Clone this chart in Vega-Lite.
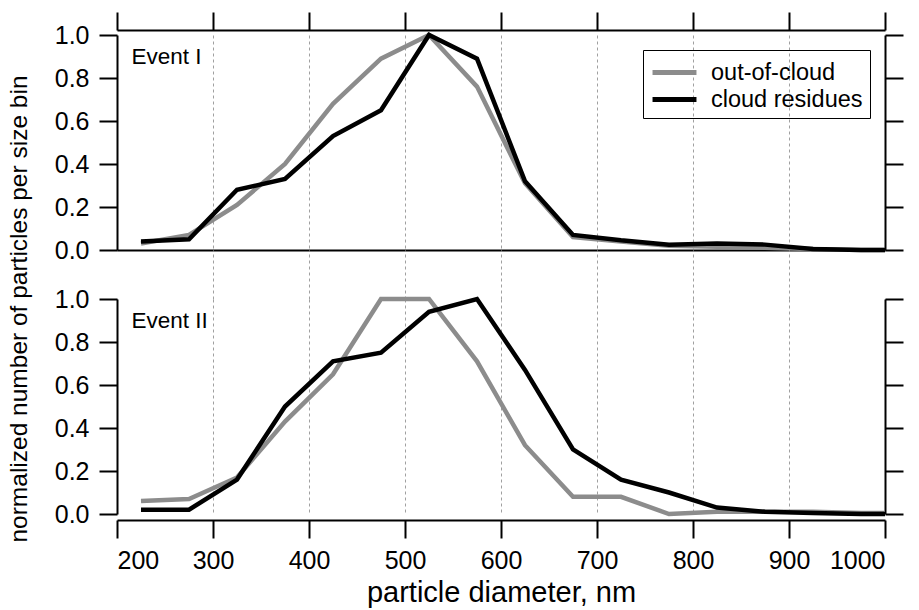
{
  "$schema": "https://vega.github.io/schema/vega-lite/v6.json",
  "padding": {"left": 6, "top": 11, "right": 5, "bottom": 5},
  "config": {
    "view": {"stroke": null},
    "font": "Liberation Sans",
    "axis": {"domainColor": "black", "tickColor": "black", "domainWidth": 2, "tickWidth": 2, "labelColor": "black", "titleColor": "black", "labelFont": "Liberation Sans", "titleFont": "Liberation Sans", "titleFontWeight": "normal"},
    "legend": {"labelFont": "Liberation Sans"}
  },
  "title": {"text": "normalized number of particles per size bin", "orient": "left", "anchor": "middle", "fontSize": 24.5, "fontWeight": "normal", "font": "Liberation Sans", "color": "black", "offset": 22},
  "datasets": {
    "d": [
      {"event": "I", "series": "out-of-cloud", "d": 225, "v": 0.03},
      {"event": "I", "series": "out-of-cloud", "d": 275, "v": 0.07},
      {"event": "I", "series": "out-of-cloud", "d": 325, "v": 0.21},
      {"event": "I", "series": "out-of-cloud", "d": 375, "v": 0.40},
      {"event": "I", "series": "out-of-cloud", "d": 425, "v": 0.68},
      {"event": "I", "series": "out-of-cloud", "d": 475, "v": 0.89},
      {"event": "I", "series": "out-of-cloud", "d": 525, "v": 1.0},
      {"event": "I", "series": "out-of-cloud", "d": 575, "v": 0.76},
      {"event": "I", "series": "out-of-cloud", "d": 625, "v": 0.31},
      {"event": "I", "series": "out-of-cloud", "d": 675, "v": 0.06},
      {"event": "I", "series": "out-of-cloud", "d": 725, "v": 0.04},
      {"event": "I", "series": "out-of-cloud", "d": 775, "v": 0.02},
      {"event": "I", "series": "out-of-cloud", "d": 825, "v": 0.015},
      {"event": "I", "series": "out-of-cloud", "d": 875, "v": 0.01},
      {"event": "I", "series": "out-of-cloud", "d": 925, "v": 0.005},
      {"event": "I", "series": "out-of-cloud", "d": 975, "v": 0.0},
      {"event": "I", "series": "out-of-cloud", "d": 1000, "v": 0.0},
      {"event": "I", "series": "cloud residues", "d": 225, "v": 0.04},
      {"event": "I", "series": "cloud residues", "d": 275, "v": 0.05},
      {"event": "I", "series": "cloud residues", "d": 325, "v": 0.28},
      {"event": "I", "series": "cloud residues", "d": 375, "v": 0.33},
      {"event": "I", "series": "cloud residues", "d": 425, "v": 0.53},
      {"event": "I", "series": "cloud residues", "d": 475, "v": 0.65},
      {"event": "I", "series": "cloud residues", "d": 525, "v": 1.0},
      {"event": "I", "series": "cloud residues", "d": 575, "v": 0.89},
      {"event": "I", "series": "cloud residues", "d": 625, "v": 0.32},
      {"event": "I", "series": "cloud residues", "d": 675, "v": 0.07},
      {"event": "I", "series": "cloud residues", "d": 725, "v": 0.045},
      {"event": "I", "series": "cloud residues", "d": 775, "v": 0.025},
      {"event": "I", "series": "cloud residues", "d": 825, "v": 0.03},
      {"event": "I", "series": "cloud residues", "d": 875, "v": 0.025},
      {"event": "I", "series": "cloud residues", "d": 925, "v": 0.005},
      {"event": "I", "series": "cloud residues", "d": 975, "v": 0.0},
      {"event": "I", "series": "cloud residues", "d": 1000, "v": 0.0},
      {"event": "II", "series": "out-of-cloud", "d": 225, "v": 0.06},
      {"event": "II", "series": "out-of-cloud", "d": 275, "v": 0.07},
      {"event": "II", "series": "out-of-cloud", "d": 325, "v": 0.17},
      {"event": "II", "series": "out-of-cloud", "d": 375, "v": 0.43},
      {"event": "II", "series": "out-of-cloud", "d": 425, "v": 0.65},
      {"event": "II", "series": "out-of-cloud", "d": 475, "v": 1.0},
      {"event": "II", "series": "out-of-cloud", "d": 525, "v": 1.0},
      {"event": "II", "series": "out-of-cloud", "d": 575, "v": 0.71},
      {"event": "II", "series": "out-of-cloud", "d": 625, "v": 0.32},
      {"event": "II", "series": "out-of-cloud", "d": 675, "v": 0.08},
      {"event": "II", "series": "out-of-cloud", "d": 725, "v": 0.08},
      {"event": "II", "series": "out-of-cloud", "d": 775, "v": 0.0},
      {"event": "II", "series": "out-of-cloud", "d": 825, "v": 0.01},
      {"event": "II", "series": "out-of-cloud", "d": 875, "v": 0.01},
      {"event": "II", "series": "out-of-cloud", "d": 925, "v": 0.01},
      {"event": "II", "series": "out-of-cloud", "d": 975, "v": 0.005},
      {"event": "II", "series": "out-of-cloud", "d": 1000, "v": 0.005},
      {"event": "II", "series": "cloud residues", "d": 225, "v": 0.02},
      {"event": "II", "series": "cloud residues", "d": 275, "v": 0.02},
      {"event": "II", "series": "cloud residues", "d": 325, "v": 0.16},
      {"event": "II", "series": "cloud residues", "d": 375, "v": 0.50},
      {"event": "II", "series": "cloud residues", "d": 425, "v": 0.71},
      {"event": "II", "series": "cloud residues", "d": 475, "v": 0.75},
      {"event": "II", "series": "cloud residues", "d": 525, "v": 0.94},
      {"event": "II", "series": "cloud residues", "d": 575, "v": 1.0},
      {"event": "II", "series": "cloud residues", "d": 625, "v": 0.67},
      {"event": "II", "series": "cloud residues", "d": 675, "v": 0.30},
      {"event": "II", "series": "cloud residues", "d": 725, "v": 0.16},
      {"event": "II", "series": "cloud residues", "d": 775, "v": 0.10},
      {"event": "II", "series": "cloud residues", "d": 825, "v": 0.03},
      {"event": "II", "series": "cloud residues", "d": 875, "v": 0.01},
      {"event": "II", "series": "cloud residues", "d": 925, "v": 0.005},
      {"event": "II", "series": "cloud residues", "d": 975, "v": 0.0},
      {"event": "II", "series": "cloud residues", "d": 1000, "v": 0.0}
    ]
  },
  "bounds": "flush",
  "spacing": 49,
  "resolve": {"scale": {"color": "independent"}, "legend": {"color": "independent"}},
  "vconcat": [
    {
      "width": 768,
      "height": 215,
      "resolve": {"axis": {"x": "independent", "y": "independent"}},
      "layer": [
        {
          "data": {"name": "d"},
          "transform": [{"filter": "datum.event == 'I'"}],
          "mark": {"type": "line", "strokeWidth": 4.5},
          "encoding": {
            "x": {"field": "d", "type": "quantitative", "scale": {"domain": [200, 1000]},
                  "axis": {"orient": "top", "offset": 5, "values": [200, 300, 400, 500, 600, 700, 800, 900, 1000], "tickSize": 18, "labels": false, "title": null, "grid": false}},
            "y": {"field": "v", "type": "quantitative", "scale": {"domain": [0, 1]},
                  "axis": {"orient": "left", "values": [0, 0.2, 0.4, 0.6, 0.8, 1.0], "format": ".1f", "tickSize": 18, "labelFontSize": 25, "labelPadding": 10, "title": null, "grid": false, "domain": true}},
            "color": {"field": "series", "type": "nominal",
                      "scale": {"domain": ["out-of-cloud", "cloud residues"], "range": ["#8c8c8c", "#000000"]},
                      "legend": {"title": null, "orient": "top-right", "offset": 15, "strokeColor": "black", "padding": 7,
                                 "symbolType": "M-1.69,0H1.69", "symbolSize": 676, "symbolStrokeWidth": 5, "symbolOffset": 9,
                                 "labelFontSize": 23.5, "labelColor": "black", "labelOffset": 21, "rowPadding": 0}}
          }
        },
        {
          "data": {"name": "d"},
          "transform": [{"filter": "datum.event == 'I'"}],
          "mark": {"type": "point", "opacity": 0},
          "encoding": {
            "x": {"field": "d", "type": "quantitative",
                  "axis": {"orient": "bottom", "values": [300, 400, 500, 600, 700, 800, 900], "ticks": false, "labels": false, "title": null, "grid": true, "gridDash": [3, 3], "gridColor": "#a0a0a0", "gridWidth": 1, "gridOpacity": 1}},
            "y": {"field": "v", "type": "quantitative",
                  "axis": {"orient": "right", "values": [0, 0.2, 0.4, 0.6, 0.8, 1.0], "tickSize": 18, "labels": false, "title": null, "grid": false}}
          }
        },
        {
          "data": {"values": [{"label": "Event I"}]},
          "mark": {"type": "text", "align": "left", "baseline": "middle", "fontSize": 22.5, "font": "Liberation Sans", "color": "black"},
          "encoding": {
            "x": {"datum": 215, "type": "quantitative", "axis": null},
            "y": {"datum": 0.9, "type": "quantitative", "axis": null},
            "text": {"field": "label"}
          }
        }
      ]
    },
    {
      "width": 768,
      "height": 215,
      "resolve": {"axis": {"x": "independent", "y": "independent"}},
      "layer": [
        {
          "data": {"name": "d"},
          "transform": [{"filter": "datum.event == 'II'"}],
          "mark": {"type": "line", "strokeWidth": 4.5},
          "encoding": {
            "x": {"field": "d", "type": "quantitative", "scale": {"domain": [200, 1000]},
                  "axis": {"orient": "bottom", "offset": 6, "values": [200, 300, 400, 500, 600, 700, 800, 900, 1000], "format": "d", "tickSize": 18, "labelFontSize": 25, "labelPadding": 10, "title": "particle diameter, nm", "titleFontSize": 29, "titlePadding": 5, "grid": true, "gridDash": [3, 3], "gridColor": "#a0a0a0", "gridWidth": 1, "gridOpacity": 1}},
            "y": {"field": "v", "type": "quantitative", "scale": {"domain": [0, 1]},
                  "axis": {"orient": "left", "values": [0, 0.2, 0.4, 0.6, 0.8, 1.0], "format": ".1f", "tickSize": 18, "labelFontSize": 25, "labelPadding": 10, "title": null, "grid": false}},
            "color": {"field": "series", "type": "nominal",
                      "scale": {"domain": ["out-of-cloud", "cloud residues"], "range": ["#8c8c8c", "#000000"]},
                      "legend": null}
          }
        },
        {
          "data": {"name": "d"},
          "transform": [{"filter": "datum.event == 'II'"}],
          "mark": {"type": "point", "opacity": 0},
          "encoding": {
            "x": {"field": "d", "type": "quantitative",
                  "axis": {"orient": "top", "values": [300, 400, 500, 600, 700, 800, 900], "domain": false, "labels": false, "title": null, "grid": false, "tickSize": 49, "tickDash": [3, 3], "tickColor": "#a0a0a0", "tickWidth": 1}},
            "y": {"field": "v", "type": "quantitative",
                  "axis": {"orient": "right", "values": [0, 0.2, 0.4, 0.6, 0.8, 1.0], "tickSize": 18, "labels": false, "title": null, "grid": false}}
          }
        },
        {
          "data": {"values": [{"label": "Event II"}]},
          "mark": {"type": "text", "align": "left", "baseline": "middle", "fontSize": 22.5, "font": "Liberation Sans", "color": "black"},
          "encoding": {
            "x": {"datum": 215, "type": "quantitative", "axis": null},
            "y": {"datum": 0.9, "type": "quantitative", "axis": null},
            "text": {"field": "label"}
          }
        }
      ]
    }
  ]
}
